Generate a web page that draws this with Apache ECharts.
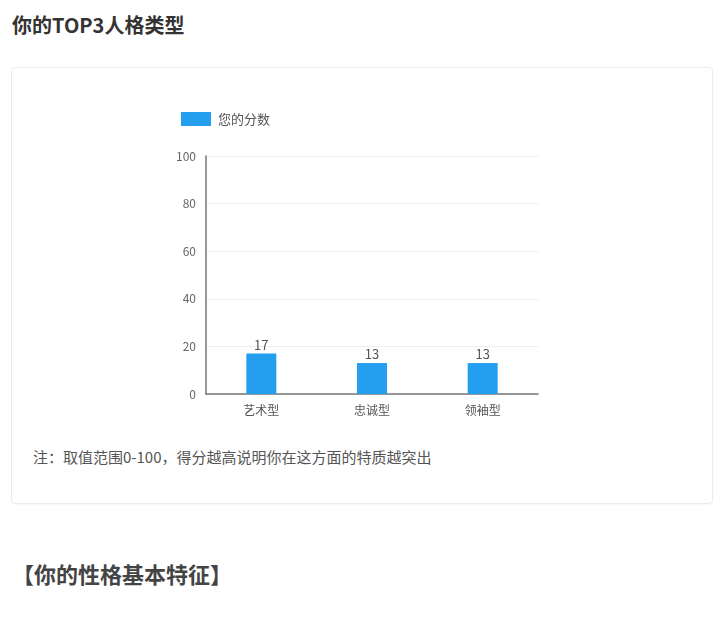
<!DOCTYPE html>
<html>
<head>
<meta charset="utf-8">
<script src="https://cdn.jsdelivr.net/npm/echarts@6/dist/echarts.min.js"></script>
<style>
  html, body { margin: 0; padding: 0; background: #fff; width: 720px; height: 620px; overflow: hidden;
    font-family: "Noto Sans CJK SC", "Noto Sans", sans-serif; }
  #title { position: absolute; left: 12px; top: 11px; font-size: 20px; font-weight: bold; color: #333; line-height: 28px; }
  #card { position: absolute; left: 11px; top: 67px; width: 700px; height: 435px; border: 1px solid #ebebeb;
    border-radius: 4px; box-shadow: 0 1px 2px rgba(0,0,0,0.04); }
  #chart { position: absolute; left: 0px; top: 0px; width: 700px; height: 370px; }
  #note { position: absolute; left: 21px; top: 378px; font-size: 15px; color: #555; line-height: 22px; }
  #heading { position: absolute; left: 12px; top: 556px; font-size: 22px; font-weight: bold; color: #444; line-height: 34px; }
</style>
</head>
<body>
<div id="title">你的TOP3人格类型</div>
<div id="card">
  <div id="chart"></div>
  <div id="note">注：取值范围0-100，得分越高说明你在这方面的特质越突出</div>
</div>
<div id="heading">【你的性格基本特征】</div>
<script>
const categories = ["艺术型", "忠诚型", "领袖型"];
const scores = [17, 13, 13];
const seriesName = "您的分数";

const chart = echarts.init(document.getElementById('chart'));
chart.setOption({
  animation: false,
  textStyle: { fontFamily: '"Noto Sans CJK SC", "Noto Sans", sans-serif' },
  legend: {
    data: [seriesName],
    left: 164, top: 39,
    icon: 'rect',
    itemWidth: 30, itemHeight: 14, itemGap: 10,
    textStyle: { fontSize: 13, color: '#555', padding: [0, 0, 0, 2] }
  },
  grid: { left: 194, right: 174, top: 88, bottom: 44, containLabel: false },
  xAxis: {
    type: 'category',
    data: categories,
    axisLine: { show: true, lineStyle: { color: '#777', width: 1.5 } },
    axisTick: { show: false },
    axisLabel: { fontSize: 12, color: '#555', margin: 10 },
    splitLine: { show: false }
  },
  yAxis: {
    type: 'value',
    min: 0, max: 100, interval: 20,
    axisLine: { show: true, lineStyle: { color: '#777', width: 1.5 } },
    axisTick: { show: false },
    axisLabel: { fontSize: 12, color: '#666', margin: 10 },
    splitLine: { show: true, lineStyle: { color: '#eeeeee' } }
  },
  series: [{
    name: seriesName,
    type: 'bar',
    data: scores,
    barWidth: 30,
    itemStyle: { color: '#249ff0', borderRadius: 0 },
    label: { show: true, position: 'top', fontSize: 13, color: '#555', distance: 2 }
  }]
});
</script>
</body>
</html>
